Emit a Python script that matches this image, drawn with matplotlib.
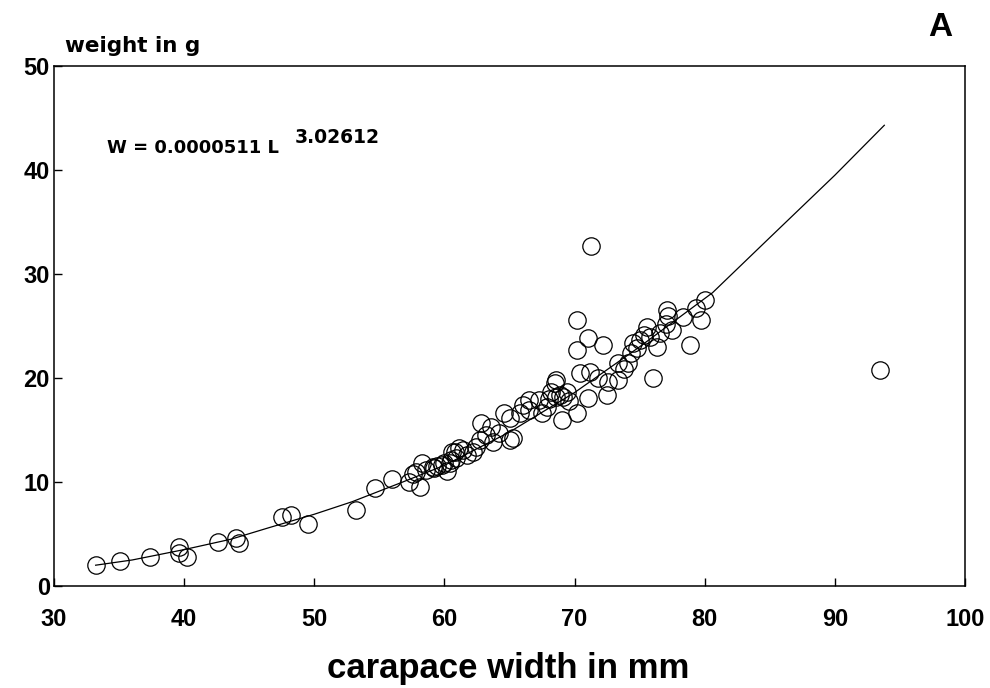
"""Carapace width vs weight scatter with the fitted power curve (panel A)."""
import matplotlib

matplotlib.use("Agg")
import matplotlib.pyplot as plt  # noqa: E402

plt.rcParams["font.family"] = ["Liberation Sans", "DejaVu Sans"]
plt.rcParams["font.weight"] = "bold"

# individuals: carapace width (mm) and weight (g)
largura = [
    33.2, 35.1, 37.4, 39.6, 39.6, 40.2, 42.6, 44.0, 44.2, 47.5,
    48.2, 49.5, 53.2, 54.7, 56.0, 57.3, 57.6, 58.1, 58.3, 57.8,
    58.6, 59.2, 59.4, 59.8, 60.4, 60.5, 60.9, 61.1, 60.8, 59.1,
    60.0, 60.6, 61.4, 62.2, 62.7, 62.8, 63.2, 63.7, 64.2, 65.0,
    64.6, 65.0, 65.8, 66.5, 66.5, 67.5, 67.3, 67.9, 68.2, 68.6,
    68.6, 69.0, 68.5, 68.9, 69.1, 69.4, 70.2, 70.4, 71.2, 71.0,
    71.8, 72.6, 72.5, 73.3, 73.3, 74.1, 74.3, 74.5, 75.3, 76.0,
    70.2, 71.0, 70.2, 72.2, 71.3, 80.0, 79.3, 79.7, 78.9, 77.1,
    77.2, 77.5, 78.3, 75.6, 75.8, 76.3, 75.0, 93.5, 62.4, 63.6,
    65.3, 66.0, 61.7, 60.2, 68.0, 69.6, 73.8, 74.8, 76.6, 77.0,
]
peso = [
    2.0, 2.4, 2.8, 3.75, 3.2, 2.8, 4.2, 4.6, 4.1, 6.6,
    6.8, 6.0, 7.3, 9.4, 10.3, 10.0, 10.8, 9.5, 11.8, 11.0,
    11.2, 11.3, 11.5, 11.6, 11.8, 12.1, 12.3, 13.3, 12.9, 11.4,
    11.8, 12.9, 13.1, 12.9, 14.0, 15.7, 14.5, 13.8, 14.7, 14.0,
    16.6, 16.2, 16.6, 16.9, 17.9, 16.6, 17.9, 17.2, 18.7, 19.8,
    18.2, 16.0, 19.5, 18.4, 18.2, 18.7, 16.6, 20.5, 20.6, 18.1,
    20.0, 19.6, 18.4, 21.4, 19.8, 21.4, 22.4, 23.4, 24.1, 20.0,
    25.6, 23.8, 22.7, 23.2, 32.7, 27.5, 26.7, 25.6, 23.2, 26.5,
    26.0, 24.6, 25.9, 24.9, 23.9, 23.0, 23.7, 20.8, 13.4, 15.3,
    14.2, 17.4, 12.6, 11.1, 18.0, 17.8, 20.9, 22.9, 24.3, 25.2,
]

# fitted curve W = 0.0000511 L^3.02612
curva_l = [33.2, 36, 40, 43.6, 46.5, 50, 52.9, 56.8, 60, 65, 70, 75, 80.6, 85, 90, 93.8]
curva_w = [2.0, 2.5, 3.5, 4.5, 5.6, 6.9, 8.1, 10.0, 11.6, 14.8, 18.6, 23.0, 28.2, 33.5, 39.5, 44.3]

W, H = 990, 688
fig = plt.figure(figsize=(W / 100, H / 100), dpi=100)
ax = fig.add_axes([54 / W, 1 - 586 / H, (965 - 54) / W, (586 - 66) / H])

ax.plot(curva_l, curva_w, color="black", lw=0.9, zorder=2)
ax.plot(largura, peso, ls="none", marker="o", ms=12.5, mfc="none",
        mec="black", mew=0.9, zorder=3)

ax.set_xlim(30, 100)
ax.set_ylim(0, 50)
ax.set_xticks(range(30, 101, 10))
ax.set_yticks(range(0, 51, 10))
ax.tick_params(axis="x", direction="in", length=6, width=1, pad=16, labelsize=17)
ax.tick_params(axis="y", direction="in", length=6, width=1, pad=3, labelsize=17)
for lab in ax.get_xticklabels() + ax.get_yticklabels():
    lab.set_fontweight("bold")
for s in ax.spines.values():
    s.set_linewidth(1.1)

largo = ["DejaVu Sans"]
fig.text(508 / W, 1 - 678 / H, "carapace width in mm", ha="center", va="baseline",
         fontsize=25, fontweight="bold")
fig.text(65 / W, 1 - 52 / H, "weight in g", ha="left", va="baseline",
         fontsize=15.5, fontweight="bold", family=largo)
fig.text(940 / W, 1 - 36 / H, "A", ha="center", va="baseline",
         fontsize=24, fontweight="bold")
fig.text(107 / W, 1 - 153 / H, "W = 0.0000511 L", ha="left", va="baseline",
         fontsize=13, fontweight="bold", family=largo)
fig.text(295 / W, 1 - 143 / H, "3.02612", ha="left", va="baseline",
         fontsize=13.5, fontweight="bold", family=largo)

fig.savefig("out.png", dpi=100, facecolor="white")
